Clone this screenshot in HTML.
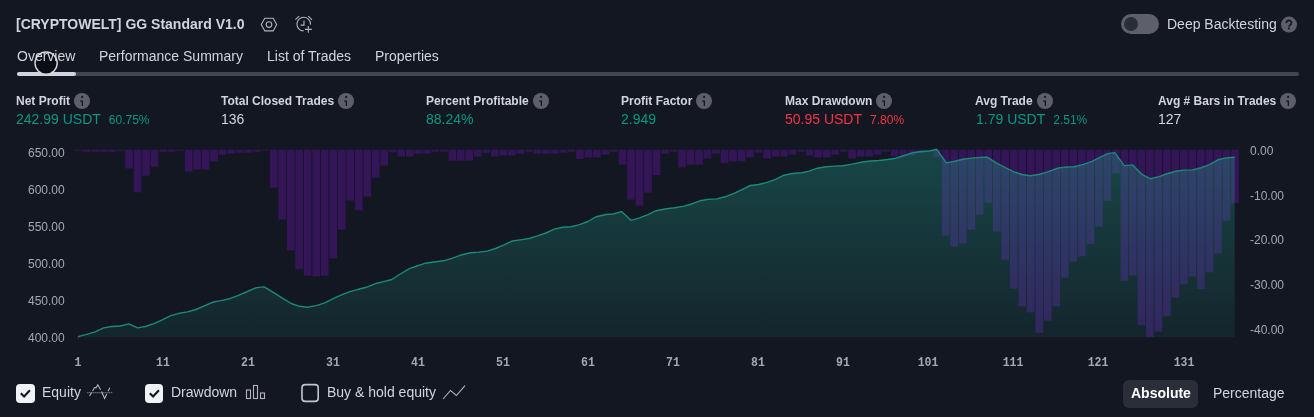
<!DOCTYPE html>
<html><head><meta charset="utf-8"><title>Strategy Tester</title>
<style>
html,body{margin:0;padding:0;background:#131722;width:1314px;height:417px;overflow:hidden;font-family:"Liberation Sans",sans-serif;}
.t{position:absolute;white-space:nowrap;box-sizing:content-box;will-change:transform;}
.ii{display:inline-block;position:relative;width:16px;height:1px;margin-left:4px;vertical-align:top;}

</style></head><body>
<div class="t" style="left:16px;top:16.75px;font-size:14px;line-height:14px;font-weight:700;color:#d1d4dc;font-family:'Liberation Sans',sans-serif;">[CRYPTOWELT] GG Standard V1.0</div>
<svg class="t" style="left:0;top:0" width="1314" height="417" viewBox="0 0 1314 417">
<g fill="none" stroke="#b2b5be" stroke-width="1.1">
<path d="M261.3 24.6 L264.8 18.3 L273.2 18.3 L276.7 24.6 L273.2 30.9 L264.8 30.9 Z"/>
<circle cx="269" cy="24.6" r="2.8"/>
<path d="M310.5 24.6 A6.8 6.8 0 1 0 303.6 30.9"/>
<path d="M304 20.6 V25.1 H300.6"/>
<path d="M295.4 19.6 L299.2 16.1 M308.3 16.1 L312 19.8"/>
<path d="M308.3 26 V32.8 M304.9 29.4 H311.8"/>
</g>
</svg>
<div class="t" style="left:1121px;top:14px;width:38px;height:20px;border-radius:10px;background:#5d606b"></div>
<div class="t" style="left:1124px;top:17px;width:14px;height:14px;border-radius:7px;background:#2a2e39"></div>
<div class="t" style="left:1166.6px;top:17.15px;font-size:14px;line-height:14px;font-weight:400;color:#d1d4dc;font-family:'Liberation Sans',sans-serif;">Deep Backtesting</div>
<svg class="t" style="left:1276px;top:12px" width="26" height="26" viewBox="1276 12 26 26"><circle cx="1289" cy="24.6" r="8" fill="#5d606b"/><path d="M1286.4 23.1 A2.5 2.5 0 1 1 1290.9 24.4 C1290.2 25.2 1288.9 25.5 1288.9 26.8" fill="none" stroke="#131722" stroke-width="1.7"/><circle cx="1288.9" cy="28.5" r="1.05" fill="#131722"/></svg>
<div class="t" style="left:17px;top:72px;width:1282px;height:4px;border-radius:2px;background:#434651"></div>
<div class="t" style="left:17px;top:72px;width:59px;height:4px;border-radius:2px;background:#d1d4dc"></div>
<svg class="t" style="left:30px;top:47px" width="32" height="32" viewBox="30 47 32 32"><circle cx="46.1" cy="63.1" r="11.1" fill="#0b0d14" stroke="#d6d8de" stroke-width="1.4"/></svg>
<div class="t" style="left:16.8px;top:48.85px;font-size:14px;line-height:14px;font-weight:400;color:#d1d4dc;font-family:'Liberation Sans',sans-serif;">Overview</div>
<div class="t" style="left:98.7px;top:48.85px;font-size:14px;line-height:14px;font-weight:400;color:#d1d4dc;font-family:'Liberation Sans',sans-serif;">Performance Summary</div>
<div class="t" style="left:267px;top:48.85px;font-size:14px;line-height:14px;font-weight:400;color:#d1d4dc;font-family:'Liberation Sans',sans-serif;">List of Trades</div>
<div class="t" style="left:375px;top:48.85px;font-size:14px;line-height:14px;font-weight:400;color:#d1d4dc;font-family:'Liberation Sans',sans-serif;">Properties</div>
<div class="t" style="left:15.7px;top:94.74px;font-size:12px;line-height:12px;font-weight:700;color:#d1d4dc">Net Profit<span class="ii"><svg width="16" height="16" viewBox="0 0 16 16" style="position:absolute;left:0;top:-2px"><circle cx="8" cy="8" r="8" fill="#5d606b"/><circle cx="8.1" cy="3.9" r="1.1" fill="#131722"/><path d="M6.2 7.6 H9 V12.9 H7.7 V8.8 H6.2 Z" fill="#131722"/></svg></span></div>
<div class="t" style="left:16.15px;top:111.55px;font-size:14px;line-height:14px;color:#089981">242.99 USDT<span style="font-size:12px;margin-left:8px;color:#089981">60.75%</span></div>
<div class="t" style="left:220.6px;top:94.74px;font-size:12px;line-height:12px;font-weight:700;color:#d1d4dc">Total Closed Trades<span class="ii"><svg width="16" height="16" viewBox="0 0 16 16" style="position:absolute;left:0;top:-2px"><circle cx="8" cy="8" r="8" fill="#5d606b"/><circle cx="8.1" cy="3.9" r="1.1" fill="#131722"/><path d="M6.2 7.6 H9 V12.9 H7.7 V8.8 H6.2 Z" fill="#131722"/></svg></span></div>
<div class="t" style="left:221.05px;top:111.55px;font-size:14px;line-height:14px;color:#d1d4dc">136</div>
<div class="t" style="left:425.8px;top:94.74px;font-size:12px;line-height:12px;font-weight:700;color:#d1d4dc">Percent Profitable<span class="ii"><svg width="16" height="16" viewBox="0 0 16 16" style="position:absolute;left:0;top:-2px"><circle cx="8" cy="8" r="8" fill="#5d606b"/><circle cx="8.1" cy="3.9" r="1.1" fill="#131722"/><path d="M6.2 7.6 H9 V12.9 H7.7 V8.8 H6.2 Z" fill="#131722"/></svg></span></div>
<div class="t" style="left:426.25px;top:111.55px;font-size:14px;line-height:14px;color:#089981">88.24%</div>
<div class="t" style="left:620.8px;top:94.74px;font-size:12px;line-height:12px;font-weight:700;color:#d1d4dc">Profit Factor<span class="ii"><svg width="16" height="16" viewBox="0 0 16 16" style="position:absolute;left:0;top:-2px"><circle cx="8" cy="8" r="8" fill="#5d606b"/><circle cx="8.1" cy="3.9" r="1.1" fill="#131722"/><path d="M6.2 7.6 H9 V12.9 H7.7 V8.8 H6.2 Z" fill="#131722"/></svg></span></div>
<div class="t" style="left:621.25px;top:111.55px;font-size:14px;line-height:14px;color:#089981">2.949</div>
<div class="t" style="left:784.5px;top:94.74px;font-size:12px;line-height:12px;font-weight:700;color:#d1d4dc">Max Drawdown<span class="ii"><svg width="16" height="16" viewBox="0 0 16 16" style="position:absolute;left:0;top:-2px"><circle cx="8" cy="8" r="8" fill="#5d606b"/><circle cx="8.1" cy="3.9" r="1.1" fill="#131722"/><path d="M6.2 7.6 H9 V12.9 H7.7 V8.8 H6.2 Z" fill="#131722"/></svg></span></div>
<div class="t" style="left:784.95px;top:111.55px;font-size:14px;line-height:14px;color:#f23645">50.95 USDT<span style="font-size:12px;margin-left:8px;color:#f23645">7.80%</span></div>
<div class="t" style="left:975.2px;top:94.74px;font-size:12px;line-height:12px;font-weight:700;color:#d1d4dc">Avg Trade<span class="ii"><svg width="16" height="16" viewBox="0 0 16 16" style="position:absolute;left:0;top:-2px"><circle cx="8" cy="8" r="8" fill="#5d606b"/><circle cx="8.1" cy="3.9" r="1.1" fill="#131722"/><path d="M6.2 7.6 H9 V12.9 H7.7 V8.8 H6.2 Z" fill="#131722"/></svg></span></div>
<div class="t" style="left:975.65px;top:111.55px;font-size:14px;line-height:14px;color:#089981">1.79 USDT<span style="font-size:12px;margin-left:8px;color:#089981">2.51%</span></div>
<div class="t" style="left:1158.0px;top:94.74px;font-size:12px;line-height:12px;font-weight:700;color:#d1d4dc">Avg # Bars in Trades<span class="ii"><svg width="16" height="16" viewBox="0 0 16 16" style="position:absolute;left:0;top:-2px"><circle cx="8" cy="8" r="8" fill="#5d606b"/><circle cx="8.1" cy="3.9" r="1.1" fill="#131722"/><path d="M6.2 7.6 H9 V12.9 H7.7 V8.8 H6.2 Z" fill="#131722"/></svg></span></div>
<div class="t" style="left:1158.45px;top:111.55px;font-size:14px;line-height:14px;color:#d1d4dc">127</div>
<svg class="t" style="left:0;top:0" width="1314" height="417" viewBox="0 0 1314 417">
<defs><linearGradient id="ag" x1="0" y1="149" x2="0" y2="337.3" gradientUnits="userSpaceOnUse"><stop offset="0" stop-color="#22ab94" stop-opacity="0.32"/><stop offset="1" stop-color="#22ab94" stop-opacity="0.10"/></linearGradient></defs>
<g fill="#341658"><rect x="74.20" y="149.7" width="7.6" height="1.00"/><rect x="82.71" y="149.7" width="7.6" height="2.00"/><rect x="91.21" y="149.7" width="7.6" height="2.00"/><rect x="99.72" y="149.7" width="7.6" height="2.00"/><rect x="108.23" y="149.7" width="7.6" height="2.00"/><rect x="116.73" y="149.7" width="7.6" height="1.00"/><rect x="125.24" y="149.7" width="7.6" height="18.80"/><rect x="133.75" y="149.7" width="7.6" height="42.70"/><rect x="142.26" y="149.7" width="7.6" height="26.00"/><rect x="150.76" y="149.7" width="7.6" height="17.10"/><rect x="159.27" y="149.7" width="7.6" height="2.00"/><rect x="167.78" y="149.7" width="7.6" height="2.00"/><rect x="176.28" y="149.7" width="7.6" height="1.00"/><rect x="184.79" y="149.7" width="7.6" height="21.90"/><rect x="193.30" y="149.7" width="7.6" height="19.70"/><rect x="201.80" y="149.7" width="7.6" height="19.70"/><rect x="210.31" y="149.7" width="7.6" height="11.80"/><rect x="218.82" y="149.7" width="7.6" height="4.90"/><rect x="227.33" y="149.7" width="7.6" height="3.90"/><rect x="235.83" y="149.7" width="7.6" height="2.90"/><rect x="244.34" y="149.7" width="7.6" height="2.90"/><rect x="252.85" y="149.7" width="7.6" height="2.00"/><rect x="261.35" y="149.7" width="7.6" height="1.00"/><rect x="269.86" y="149.7" width="7.6" height="37.90"/><rect x="278.37" y="149.7" width="7.6" height="69.80"/><rect x="286.87" y="149.7" width="7.6" height="100.80"/><rect x="295.38" y="149.7" width="7.6" height="119.50"/><rect x="303.89" y="149.7" width="7.6" height="126.00"/><rect x="312.40" y="149.7" width="7.6" height="126.70"/><rect x="320.90" y="149.7" width="7.6" height="126.00"/><rect x="329.41" y="149.7" width="7.6" height="108.70"/><rect x="337.92" y="149.7" width="7.6" height="79.90"/><rect x="346.42" y="149.7" width="7.6" height="50.90"/><rect x="354.93" y="149.7" width="7.6" height="60.70"/><rect x="363.44" y="149.7" width="7.6" height="46.80"/><rect x="371.94" y="149.7" width="7.6" height="27.90"/><rect x="380.45" y="149.7" width="7.6" height="15.90"/><rect x="388.96" y="149.7" width="7.6" height="2.70"/><rect x="397.47" y="149.7" width="7.6" height="6.80"/><rect x="405.97" y="149.7" width="7.6" height="6.80"/><rect x="414.48" y="149.7" width="7.6" height="3.90"/><rect x="422.99" y="149.7" width="7.6" height="3.90"/><rect x="431.49" y="149.7" width="7.6" height="2.00"/><rect x="440.00" y="149.7" width="7.6" height="2.00"/><rect x="448.51" y="149.7" width="7.6" height="11.10"/><rect x="457.01" y="149.7" width="7.6" height="11.10"/><rect x="465.52" y="149.7" width="7.6" height="11.10"/><rect x="474.03" y="149.7" width="7.6" height="6.80"/><rect x="482.54" y="149.7" width="7.6" height="2.90"/><rect x="491.04" y="149.7" width="7.6" height="6.80"/><rect x="499.55" y="149.7" width="7.6" height="5.80"/><rect x="508.06" y="149.7" width="7.6" height="5.80"/><rect x="516.56" y="149.7" width="7.6" height="3.90"/><rect x="525.07" y="149.7" width="7.6" height="2.00"/><rect x="533.58" y="149.7" width="7.6" height="3.90"/><rect x="542.09" y="149.7" width="7.6" height="3.90"/><rect x="550.59" y="149.7" width="7.6" height="3.90"/><rect x="559.10" y="149.7" width="7.6" height="2.90"/><rect x="567.61" y="149.7" width="7.6" height="2.00"/><rect x="576.11" y="149.7" width="7.6" height="9.20"/><rect x="584.62" y="149.7" width="7.6" height="7.70"/><rect x="593.13" y="149.7" width="7.6" height="7.70"/><rect x="601.63" y="149.7" width="7.6" height="4.90"/><rect x="610.14" y="149.7" width="7.6" height="2.00"/><rect x="618.65" y="149.7" width="7.6" height="14.90"/><rect x="627.15" y="149.7" width="7.6" height="49.90"/><rect x="635.66" y="149.7" width="7.6" height="55.90"/><rect x="644.17" y="149.7" width="7.6" height="43.00"/><rect x="652.68" y="149.7" width="7.6" height="25.50"/><rect x="661.18" y="149.7" width="7.6" height="3.90"/><rect x="669.69" y="149.7" width="7.6" height="2.00"/><rect x="678.20" y="149.7" width="7.6" height="17.80"/><rect x="686.70" y="149.7" width="7.6" height="14.90"/><rect x="695.21" y="149.7" width="7.6" height="14.90"/><rect x="703.72" y="149.7" width="7.6" height="8.70"/><rect x="712.23" y="149.7" width="7.6" height="3.90"/><rect x="720.73" y="149.7" width="7.6" height="13.50"/><rect x="729.24" y="149.7" width="7.6" height="11.60"/><rect x="737.75" y="149.7" width="7.6" height="11.60"/><rect x="746.25" y="149.7" width="7.6" height="7.70"/><rect x="754.76" y="149.7" width="7.6" height="2.90"/><rect x="763.27" y="149.7" width="7.6" height="8.70"/><rect x="771.77" y="149.7" width="7.6" height="6.80"/><rect x="780.28" y="149.7" width="7.6" height="6.80"/><rect x="788.79" y="149.7" width="7.6" height="4.90"/><rect x="797.30" y="149.7" width="7.6" height="2.00"/><rect x="805.80" y="149.7" width="7.6" height="5.80"/><rect x="814.31" y="149.7" width="7.6" height="7.70"/><rect x="822.82" y="149.7" width="7.6" height="7.70"/><rect x="831.32" y="149.7" width="7.6" height="4.90"/><rect x="839.83" y="149.7" width="7.6" height="2.00"/><rect x="848.34" y="149.7" width="7.6" height="8.70"/><rect x="856.84" y="149.7" width="7.6" height="6.80"/><rect x="865.35" y="149.7" width="7.6" height="6.80"/><rect x="873.86" y="149.7" width="7.6" height="4.90"/><rect x="882.37" y="149.7" width="7.6" height="1.80"/><rect x="890.87" y="149.7" width="7.6" height="6.80"/><rect x="899.38" y="149.7" width="7.6" height="6.80"/><rect x="907.89" y="149.7" width="7.6" height="5.80"/><rect x="916.39" y="149.7" width="7.6" height="3.40"/><rect x="924.90" y="149.7" width="7.6" height="1.00"/><rect x="933.41" y="149.7" width="7.6" height="7.70"/><rect x="941.91" y="149.7" width="7.6" height="85.90"/><rect x="950.42" y="149.7" width="7.6" height="97.00"/><rect x="958.93" y="149.7" width="7.6" height="93.70"/><rect x="967.44" y="149.7" width="7.6" height="79.90"/><rect x="975.94" y="149.7" width="7.6" height="65.00"/><rect x="984.45" y="149.7" width="7.6" height="53.10"/><rect x="992.96" y="149.7" width="7.6" height="81.80"/><rect x="1001.46" y="149.7" width="7.6" height="110.00"/><rect x="1009.97" y="149.7" width="7.6" height="139.00"/><rect x="1018.48" y="149.7" width="7.6" height="156.70"/><rect x="1026.98" y="149.7" width="7.6" height="162.70"/><rect x="1035.49" y="149.7" width="7.6" height="183.10"/><rect x="1044.00" y="149.7" width="7.6" height="171.10"/><rect x="1052.50" y="149.7" width="7.6" height="156.70"/><rect x="1061.01" y="149.7" width="7.6" height="127.90"/><rect x="1069.52" y="149.7" width="7.6" height="111.90"/><rect x="1078.03" y="149.7" width="7.6" height="106.60"/><rect x="1086.53" y="149.7" width="7.6" height="94.60"/><rect x="1095.04" y="149.7" width="7.6" height="77.00"/><rect x="1103.55" y="149.7" width="7.6" height="51.10"/><rect x="1112.05" y="149.7" width="7.6" height="23.80"/><rect x="1120.56" y="149.7" width="7.6" height="131.50"/><rect x="1129.07" y="149.7" width="7.6" height="125.80"/><rect x="1137.58" y="149.7" width="7.6" height="175.40"/><rect x="1146.08" y="149.7" width="7.6" height="187.40"/><rect x="1154.59" y="149.7" width="7.6" height="181.90"/><rect x="1163.10" y="149.7" width="7.6" height="166.60"/><rect x="1171.60" y="149.7" width="7.6" height="147.90"/><rect x="1180.11" y="149.7" width="7.6" height="134.70"/><rect x="1188.62" y="149.7" width="7.6" height="126.80"/><rect x="1197.12" y="149.7" width="7.6" height="139.50"/><rect x="1205.63" y="149.7" width="7.6" height="122.70"/><rect x="1214.14" y="149.7" width="7.6" height="103.70"/><rect x="1222.64" y="149.7" width="7.6" height="71.00"/><rect x="1231.15" y="149.7" width="7.6" height="53.50"/></g>
<path d="M77.9,337.3 L77.9,336.6 86.8,334.4 95.2,331.8 103.6,327.9 112.0,326.5 120.4,326.0 128.8,323.9 137.6,327.9 145.5,326.5 153.9,323.6 162.3,319.8 170.7,315.7 179.1,313.3 187.5,311.9 195.9,309.5 204.3,305.9 213.4,302.0 221.1,300.6 229.5,298.7 237.9,295.6 247.5,291.5 256.6,287.6 264.2,286.9 274.4,293.2 282.8,298.4 291.2,303.5 299.6,306.3 307.2,307.3 316.4,305.6 324.8,302.8 333.1,298.7 341.5,294.8 349.9,291.7 358.3,289.3 366.7,287.2 375.1,283.8 383.5,281.6 391.9,279.5 400.3,274.0 409.4,268.7 417.1,266.0 425.5,263.2 433.9,262.0 443.5,260.8 451.8,258.4 460.2,255.3 470.4,252.8 478.8,252.1 487.2,251.1 495.6,248.5 504.0,244.9 512.4,241.0 522.0,239.6 529.1,238.5 537.5,235.9 545.9,233.0 554.3,229.1 562.7,227.2 571.1,226.7 579.5,224.6 587.9,221.5 596.3,216.7 605.9,214.5 613.1,214.0 621.5,211.6 631.1,220.3 639.5,217.9 647.9,214.7 656.2,210.7 666.4,208.7 674.8,207.8 683.2,206.4 691.6,204.0 700.0,200.8 708.4,199.4 716.8,198.9 725.1,196.8 733.5,193.6 741.9,189.6 750.3,185.5 758.7,184.5 767.1,182.4 775.5,179.3 783.9,175.2 792.3,173.5 801.9,172.8 809.1,171.1 817.5,168.2 825.9,166.8 834.3,166.1 842.7,165.8 851.0,164.4 862.4,162.0 870.8,161.0 879.2,160.5 887.6,159.5 896.0,158.2 904.4,155.5 912.8,152.7 921.1,151.5 929.5,151.0 936.7,149.3 946.3,162.9 954.7,161.3 963.1,159.3 971.5,158.1 979.9,157.4 987.1,157.2 996.7,163.2 1005.1,167.5 1013.5,171.6 1021.9,174.5 1030.3,175.7 1038.7,174.5 1047.0,172.1 1058.4,168.0 1066.8,167.0 1074.0,166.8 1083.6,164.4 1092.0,161.3 1100.4,157.2 1107.6,153.6 1114.7,152.6 1124.3,165.6 1132.7,164.9 1142.3,174.7 1150.7,178.8 1159.1,176.6 1167.5,173.5 1175.9,171.3 1184.3,170.1 1192.7,169.9 1201.1,167.7 1209.5,164.6 1217.9,159.8 1226.3,157.9 1234.7,157.2 L1234.7,337.3 Z" fill="url(#ag)"/>
<rect x="77.2" y="337" width="2.6" height="1.4" fill="#4a1b2a"/>
<polyline points="77.9,336.6 86.8,334.4 95.2,331.8 103.6,327.9 112.0,326.5 120.4,326.0 128.8,323.9 137.6,327.9 145.5,326.5 153.9,323.6 162.3,319.8 170.7,315.7 179.1,313.3 187.5,311.9 195.9,309.5 204.3,305.9 213.4,302.0 221.1,300.6 229.5,298.7 237.9,295.6 247.5,291.5 256.6,287.6 264.2,286.9 274.4,293.2 282.8,298.4 291.2,303.5 299.6,306.3 307.2,307.3 316.4,305.6 324.8,302.8 333.1,298.7 341.5,294.8 349.9,291.7 358.3,289.3 366.7,287.2 375.1,283.8 383.5,281.6 391.9,279.5 400.3,274.0 409.4,268.7 417.1,266.0 425.5,263.2 433.9,262.0 443.5,260.8 451.8,258.4 460.2,255.3 470.4,252.8 478.8,252.1 487.2,251.1 495.6,248.5 504.0,244.9 512.4,241.0 522.0,239.6 529.1,238.5 537.5,235.9 545.9,233.0 554.3,229.1 562.7,227.2 571.1,226.7 579.5,224.6 587.9,221.5 596.3,216.7 605.9,214.5 613.1,214.0 621.5,211.6 631.1,220.3 639.5,217.9 647.9,214.7 656.2,210.7 666.4,208.7 674.8,207.8 683.2,206.4 691.6,204.0 700.0,200.8 708.4,199.4 716.8,198.9 725.1,196.8 733.5,193.6 741.9,189.6 750.3,185.5 758.7,184.5 767.1,182.4 775.5,179.3 783.9,175.2 792.3,173.5 801.9,172.8 809.1,171.1 817.5,168.2 825.9,166.8 834.3,166.1 842.7,165.8 851.0,164.4 862.4,162.0 870.8,161.0 879.2,160.5 887.6,159.5 896.0,158.2 904.4,155.5 912.8,152.7 921.1,151.5 929.5,151.0 936.7,149.3 946.3,162.9 954.7,161.3 963.1,159.3 971.5,158.1 979.9,157.4 987.1,157.2 996.7,163.2 1005.1,167.5 1013.5,171.6 1021.9,174.5 1030.3,175.7 1038.7,174.5 1047.0,172.1 1058.4,168.0 1066.8,167.0 1074.0,166.8 1083.6,164.4 1092.0,161.3 1100.4,157.2 1107.6,153.6 1114.7,152.6 1124.3,165.6 1132.7,164.9 1142.3,174.7 1150.7,178.8 1159.1,176.6 1167.5,173.5 1175.9,171.3 1184.3,170.1 1192.7,169.9 1201.1,167.7 1209.5,164.6 1217.9,159.8 1226.3,157.9 1234.7,157.2" fill="none" stroke="#1b8a76" stroke-width="1.4" stroke-linejoin="round"/>
</svg>
<div class="t" style="right:1249.4px;top:147.34px;font-size:12px;line-height:12px;font-weight:400;color:#a5a8b0;font-family:'Liberation Sans',sans-serif;">650.00</div>
<div class="t" style="right:1249.4px;top:184.34px;font-size:12px;line-height:12px;font-weight:400;color:#a5a8b0;font-family:'Liberation Sans',sans-serif;">600.00</div>
<div class="t" style="right:1249.4px;top:221.34px;font-size:12px;line-height:12px;font-weight:400;color:#a5a8b0;font-family:'Liberation Sans',sans-serif;">550.00</div>
<div class="t" style="right:1249.4px;top:258.34px;font-size:12px;line-height:12px;font-weight:400;color:#a5a8b0;font-family:'Liberation Sans',sans-serif;">500.00</div>
<div class="t" style="right:1249.4px;top:295.34px;font-size:12px;line-height:12px;font-weight:400;color:#a5a8b0;font-family:'Liberation Sans',sans-serif;">450.00</div>
<div class="t" style="right:1249.4px;top:332.34px;font-size:12px;line-height:12px;font-weight:400;color:#a5a8b0;font-family:'Liberation Sans',sans-serif;">400.00</div>
<div class="t" style="left:1250px;top:145.14px;font-size:12px;line-height:12px;font-weight:400;color:#a5a8b0;font-family:'Liberation Sans',sans-serif;">0.00</div>
<div class="t" style="left:1250px;top:189.74px;font-size:12px;line-height:12px;font-weight:400;color:#a5a8b0;font-family:'Liberation Sans',sans-serif;">-10.00</div>
<div class="t" style="left:1250px;top:234.34px;font-size:12px;line-height:12px;font-weight:400;color:#a5a8b0;font-family:'Liberation Sans',sans-serif;">-20.00</div>
<div class="t" style="left:1250px;top:278.94px;font-size:12px;line-height:12px;font-weight:400;color:#a5a8b0;font-family:'Liberation Sans',sans-serif;">-30.00</div>
<div class="t" style="left:1250px;top:323.54px;font-size:12px;line-height:12px;font-weight:400;color:#a5a8b0;font-family:'Liberation Sans',sans-serif;">-40.00</div>
<div class="t" style="left:77.60px;top:357.27px;font-size:11.5px;line-height:11.5px;font-weight:700;color:#a5a8b0;font-family:'Liberation Mono',monospace;transform:translateX(-50%) scaleY(1.18);transform-origin:50% 9.73px">1</div>
<div class="t" style="left:162.67px;top:357.27px;font-size:11.5px;line-height:11.5px;font-weight:700;color:#a5a8b0;font-family:'Liberation Mono',monospace;transform:translateX(-50%) scaleY(1.18);transform-origin:50% 9.73px">11</div>
<div class="t" style="left:247.74px;top:357.27px;font-size:11.5px;line-height:11.5px;font-weight:700;color:#a5a8b0;font-family:'Liberation Mono',monospace;transform:translateX(-50%) scaleY(1.18);transform-origin:50% 9.73px">21</div>
<div class="t" style="left:332.81px;top:357.27px;font-size:11.5px;line-height:11.5px;font-weight:700;color:#a5a8b0;font-family:'Liberation Mono',monospace;transform:translateX(-50%) scaleY(1.18);transform-origin:50% 9.73px">31</div>
<div class="t" style="left:417.88px;top:357.27px;font-size:11.5px;line-height:11.5px;font-weight:700;color:#a5a8b0;font-family:'Liberation Mono',monospace;transform:translateX(-50%) scaleY(1.18);transform-origin:50% 9.73px">41</div>
<div class="t" style="left:502.95px;top:357.27px;font-size:11.5px;line-height:11.5px;font-weight:700;color:#a5a8b0;font-family:'Liberation Mono',monospace;transform:translateX(-50%) scaleY(1.18);transform-origin:50% 9.73px">51</div>
<div class="t" style="left:588.02px;top:357.27px;font-size:11.5px;line-height:11.5px;font-weight:700;color:#a5a8b0;font-family:'Liberation Mono',monospace;transform:translateX(-50%) scaleY(1.18);transform-origin:50% 9.73px">61</div>
<div class="t" style="left:673.09px;top:357.27px;font-size:11.5px;line-height:11.5px;font-weight:700;color:#a5a8b0;font-family:'Liberation Mono',monospace;transform:translateX(-50%) scaleY(1.18);transform-origin:50% 9.73px">71</div>
<div class="t" style="left:758.16px;top:357.27px;font-size:11.5px;line-height:11.5px;font-weight:700;color:#a5a8b0;font-family:'Liberation Mono',monospace;transform:translateX(-50%) scaleY(1.18);transform-origin:50% 9.73px">81</div>
<div class="t" style="left:843.23px;top:357.27px;font-size:11.5px;line-height:11.5px;font-weight:700;color:#a5a8b0;font-family:'Liberation Mono',monospace;transform:translateX(-50%) scaleY(1.18);transform-origin:50% 9.73px">91</div>
<div class="t" style="left:928.30px;top:357.27px;font-size:11.5px;line-height:11.5px;font-weight:700;color:#a5a8b0;font-family:'Liberation Mono',monospace;transform:translateX(-50%) scaleY(1.18);transform-origin:50% 9.73px">101</div>
<div class="t" style="left:1013.37px;top:357.27px;font-size:11.5px;line-height:11.5px;font-weight:700;color:#a5a8b0;font-family:'Liberation Mono',monospace;transform:translateX(-50%) scaleY(1.18);transform-origin:50% 9.73px">111</div>
<div class="t" style="left:1098.44px;top:357.27px;font-size:11.5px;line-height:11.5px;font-weight:700;color:#a5a8b0;font-family:'Liberation Mono',monospace;transform:translateX(-50%) scaleY(1.18);transform-origin:50% 9.73px">121</div>
<div class="t" style="left:1183.51px;top:357.27px;font-size:11.5px;line-height:11.5px;font-weight:700;color:#a5a8b0;font-family:'Liberation Mono',monospace;transform:translateX(-50%) scaleY(1.18);transform-origin:50% 9.73px">131</div>
<div class="t" style="left:15.9px;top:383.7px;width:19px;height:18.6px;border-radius:4px;background:#f0f3fa"><svg width="19" height="18.6" viewBox="0 0 19 18.6" style="position:absolute;left:0;top:0"><path d="M4.8 9.3 L8.1 12.5 L13.9 6.2" fill="none" stroke="#131722" stroke-width="2.1"/></svg></div>
<div class="t" style="left:41.8px;top:384.75px;font-size:14px;line-height:14px;font-weight:400;color:#d1d4dc;font-family:'Liberation Sans',sans-serif;">Equity</div>
<div class="t" style="left:145.1px;top:383.8px;width:18px;height:18.5px;border-radius:4px;background:#f0f3fa"><svg width="19" height="18.6" viewBox="0 0 19 18.6" style="position:absolute;left:0;top:0"><path d="M4.8 9.3 L8.1 12.5 L13.9 6.2" fill="none" stroke="#131722" stroke-width="2.1"/></svg></div>
<div class="t" style="left:170.8px;top:384.75px;font-size:14px;line-height:14px;font-weight:400;color:#d1d4dc;font-family:'Liberation Sans',sans-serif;">Drawdown</div>
<div class="t" style="left:326.8px;top:384.75px;font-size:14px;line-height:14px;font-weight:400;color:#d1d4dc;font-family:'Liberation Sans',sans-serif;">Buy &amp; hold equity</div>
<svg class="t" style="left:0;top:0" width="1314" height="417" viewBox="0 0 1314 417">
<rect x="302" y="384.6" width="16.2" height="16.8" rx="3.2" fill="none" stroke="#c3c6ce" stroke-width="1.6"/>
<g fill="none" stroke="#b2b5be" stroke-width="1.1">
<path d="M87.4 392.7 H112.2" stroke-dasharray="1 1"/>
<path d="M89.5 396 L91.6 392.5 M92.5 391 L94.6 387.5 L96 387.8 L97.8 384.8 L100.6 389.8 M101.5 391.6 L104.6 398.5 L106.8 394 M108.1 391.3 L109.8 387.8"/>
<rect x="246.5" y="390" width="4" height="8.5"/>
<rect x="253.5" y="385.5" width="4" height="13"/>
<rect x="260.5" y="393" width="4" height="5.5"/>
<path d="M443 399 L450.5 390.4 L456.4 395.5 L465 385.6"/>
</g></svg>
<div class="t" style="left:1123px;top:380px;width:75px;height:28px;border-radius:6px;background:#2a2e39"></div>
<div class="t" style="left:1131px;top:385.75px;font-size:14px;line-height:14px;font-weight:700;color:#ffffff;font-family:'Liberation Sans',sans-serif;">Absolute</div>
<div class="t" style="left:1212.7px;top:385.75px;font-size:14px;line-height:14px;font-weight:400;color:#d1d4dc;font-family:'Liberation Sans',sans-serif;">Percentage</div>

</body></html>
